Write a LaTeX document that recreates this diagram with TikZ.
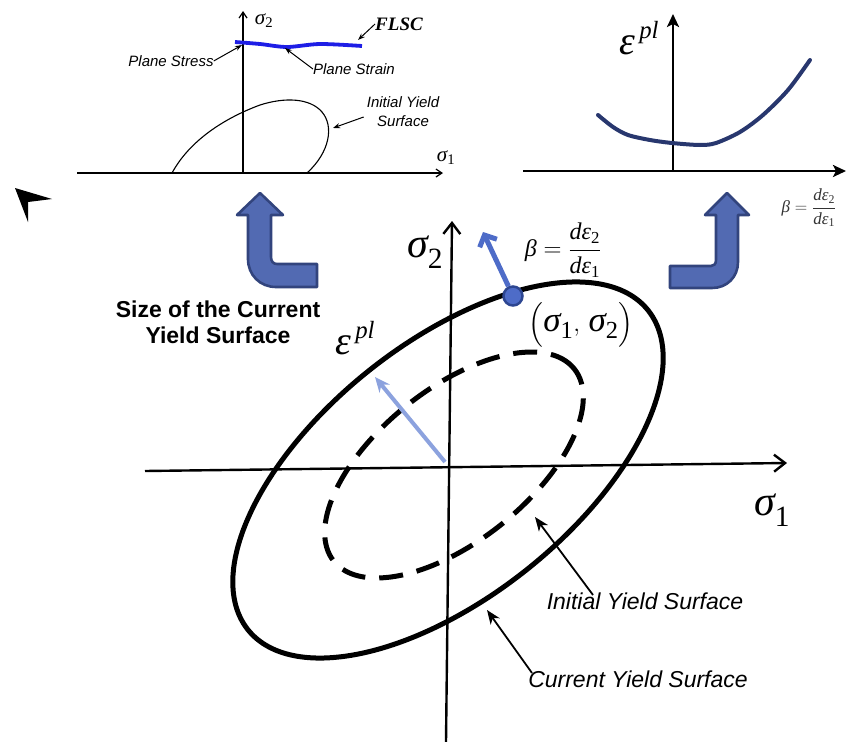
\documentclass[tikz,border=0pt]{standalone}
\usepackage{fontspec}
\setmainfont{Liberation Serif}
\setsansfont{Liberation Sans}
\usepackage{amsmath}
\usetikzlibrary{arrows.meta}
\definecolor{flscblue}{RGB}{30,30,230}
\definecolor{navycurve}{RGB}{40,55,110}
\definecolor{bentfill}{RGB}{82,106,178}
\definecolor{bentedge}{RGB}{50,68,125}
\definecolor{vecblue}{RGB}{78,108,200}
\definecolor{dotedge}{RGB}{45,70,145}
\definecolor{lightvec}{RGB}{140,162,222}
\newcommand{\gi}[1]{\text{\normalfont\itshape #1}}
\newcommand{\rmup}[1]{\text{\normalfont #1}}
\newcommand{\eppl}{\text{\normalfont\itshape ε\raisebox{0.42em}{\fontsize{0.62em}{0.7em}\selectfont\,pl}}}
\tikzset{
  mainaxis/.style={line width=2.4pt,-{Straight Barb[length=11pt,width=17pt]}},
  thinaxis/.style={line width=1.2pt,-{Straight Barb[length=6pt,width=8pt]}},
  trAxis/.style={line width=2.6pt,-{Stealth[length=13pt,width=12pt,inset=3pt]}},
  smallann/.style={line width=1pt,-{Stealth[length=7pt,width=5pt]}},
  bigann/.style={line width=1.8pt,-{Stealth[length=14pt,width=11pt,inset=4pt]}},
  yieldcurve/.style={line width=5pt},
  thincurve/.style={line width=1.1pt},
  bentarrow/.style={fill=bentfill,draw=bentedge,line width=2.6pt,line join=round},
  vecarrow/.style={vecblue,line width=5pt,-{Straight Barb[length=9pt,width=19pt]}},
  lightarrow/.style={lightvec,line width=4pt,-{Stealth[length=15pt,width=13pt,inset=5pt]}},
  bluedot/.style={circle,fill=vecblue,draw=dotedge,line width=2.5pt,minimum size=19pt,inner sep=0pt},
  mathlbl/.style={inner sep=0pt},
  sanslbl/.style={inner sep=0pt,font=\sffamily\itshape\fontsize{15}{19}\selectfont,align=center},
  biglbl/.style={inner sep=0pt,font=\sffamily\itshape\fontsize{23}{26}\selectfont},
}
\begin{document}
\begin{tikzpicture}[x=1pt,y=-1pt]
\useasboundingbox (0,0) rectangle (847,742);

% ---------------- top-left inset ----------------
\coordinate (tlH0) at (77,173); \coordinate (tlH1) at (443,173);
\coordinate (tlV0) at (243,173); \coordinate (tlV1) at (243,11);
\draw[thinaxis] (tlH0) -- (tlH1);
\draw[thinaxis] (tlV0) -- (tlV1);
\draw[thincurve] (172,173) .. controls (190,140) and (225,118) .. (260,105) .. controls (285,97) and (310,98) .. (322,112) .. controls (334,126) and (330,152) .. (307,173);
\draw[flscblue,line width=3.8pt] plot[smooth] coordinates {(235,42) (260,44) (287,47) (320,44) (362,46)};
\node[mathlbl,font=\fontsize{21}{23}\selectfont] (tls2) at (264,21) {$\gi{σ}_{\rmup{2}}$};
\node[mathlbl,font=\fontsize{21}{23}\selectfont] (tls1) at (446,158) {$\gi{σ}_{\rmup{1}}$};
\node[inner sep=0pt,font=\bfseries\itshape\fontsize{19}{21}\selectfont] (flsc) at (399,24) {FLSC};
\node[sanslbl] (pstress) at (171,61) {Plane Stress};
\node[sanslbl] (pstrain) at (354,69) {Plane Strain};
\node[sanslbl] (iys) at (403,112) {Initial Yield\\Surface};
\coordinate (flscTip) at (358,40);
\coordinate (pstressTip) at (242,45);
\coordinate (pstrainTip) at (285,48);
\coordinate (iysTip) at (333,128);
\draw[smallann] (flsc.west) -- (flscTip);
\draw[smallann] (pstress.east) -- (pstressTip);
\draw[smallann] (pstrain.west) -- (pstrainTip);
\draw[smallann] ([xshift=-3pt,yshift=-5pt]iys.west) -- (iysTip);

% ---------------- top-right inset ----------------
\coordinate (trH0) at (523,171); \coordinate (trH1) at (846,171);
\coordinate (trV0) at (673,171); \coordinate (trV1) at (673,14);
\draw[trAxis] (trH0) -- (trH1);
\draw[trAxis] (trV0) -- (trV1);
\draw[navycurve,line width=4pt,line cap=round] plot[smooth] coordinates {(598,115) (613,127) (628,135) (650,140) (672,143) (700,145) (716,143) (740,132) (763,115) (788,90) (810,60)};
\node[mathlbl,font=\fontsize{40}{44}\selectfont] (trep) at (639,38) {\eppl};
\node[mathlbl,font=\fontsize{17}{19}\selectfont,text=black!80] (trbeta) at (809,208) {$\gi{β}=\dfrac{\gi{dε}_{\rmup{2}}}{\gi{dε}_{\rmup{1}}}$};

% stray arrowhead mark
\fill (15,188) -- (52,199) -- (28,202) -- (28,222) -- cycle;

% ---------------- bent arrows ----------------
\draw[bentarrow] (260,193) -- (283,215) -- (271,215) -- (271,257) .. controls (271,261) and (273,264) .. (277,264) -- (317,264) -- (317,287) -- (276,287) .. controls (260,287) and (248,275) .. (248,259) -- (248,215) -- (237,215) -- cycle;
\draw[bentarrow] (727,193) -- (749,215) -- (738,215) -- (738,262) .. controls (738,277) and (727,288) .. (712,288) -- (670,288) -- (670,266) -- (711,266) .. controls (714,266) and (716,264) .. (716,260) -- (716,215) -- (705,215) -- cycle;

\node[inner sep=0pt,align=center,font=\sffamily\bfseries\fontsize{23}{26}\selectfont] (sizelbl) at (218,322) {Size of the Current\\Yield Surface};

% ---------------- main diagram ----------------
\draw[yieldcurve] plot[domain=0:357,samples=120,smooth cycle] ({448+200.1*cos(\x)-79.2*sin(\x)},{470-159.7*cos(\x)-99.3*sin(\x)});
\draw[yieldcurve,dash pattern=on 24pt off 14pt] plot[domain=0:357,samples=120,smooth cycle] ({454+120.3*cos(\x)-47.4*sin(\x)},{465-96.1*cos(\x)-59.4*sin(\x)});

\coordinate (hL) at (145,471); \coordinate (hR) at (787,463);
\coordinate (vB) at (446,742); \coordinate (vT) at (452,221);
\draw[mainaxis] (hL) -- (hR);
\draw[mainaxis] (vB) -- (vT);

\coordinate (epBase) at (445,462);
\coordinate (epTip) at (375,377);
\draw[lightarrow] (epBase) -- (epTip);

\node[bluedot] (dot) at (513,296) {};
\coordinate (vecTip) at (483,232);
\draw[vecarrow] (dot) -- (vecTip);

\node[mathlbl,font=\fontsize{42}{46}\selectfont] (ms2) at (425,252) {$\gi{σ}_{\rmup{2}}$};
\node[mathlbl,font=\fontsize{42}{46}\selectfont] (ms1) at (772,510) {$\gi{σ}_{\rmup{1}}$};
\node[mathlbl,font=\fontsize{40}{44}\selectfont] (mep) at (355,338) {\eppl};
\node[mathlbl,font=\fontsize{35}{40}\selectfont] (msig) at (581,325) {$\Bigl(\gi{σ}_{\rmup{1}},\,\gi{σ}_{\rmup{2}}\Bigr)$};
\node[mathlbl,font=\fontsize{24}{28}\selectfont] (mbeta) at (563,250) {$\gi{β}=\dfrac{\gi{dε}_{\rmup{2}}}{\gi{dε}_{\rmup{1}}}$};

\node[biglbl] (iysm) at (645,601) {Initial Yield Surface};
\node[biglbl] (cysm) at (638,679) {Current Yield Surface};
\coordinate (iysmTail) at (593,595); \coordinate (iysmTip) at (535,517);
\coordinate (cysmTail) at (532,673); \coordinate (cysmTip) at (487,610);
\draw[bigann] (iysmTail) -- (iysmTip);
\draw[bigann] (cysmTail) -- (cysmTip);
\end{tikzpicture}
\end{document}
